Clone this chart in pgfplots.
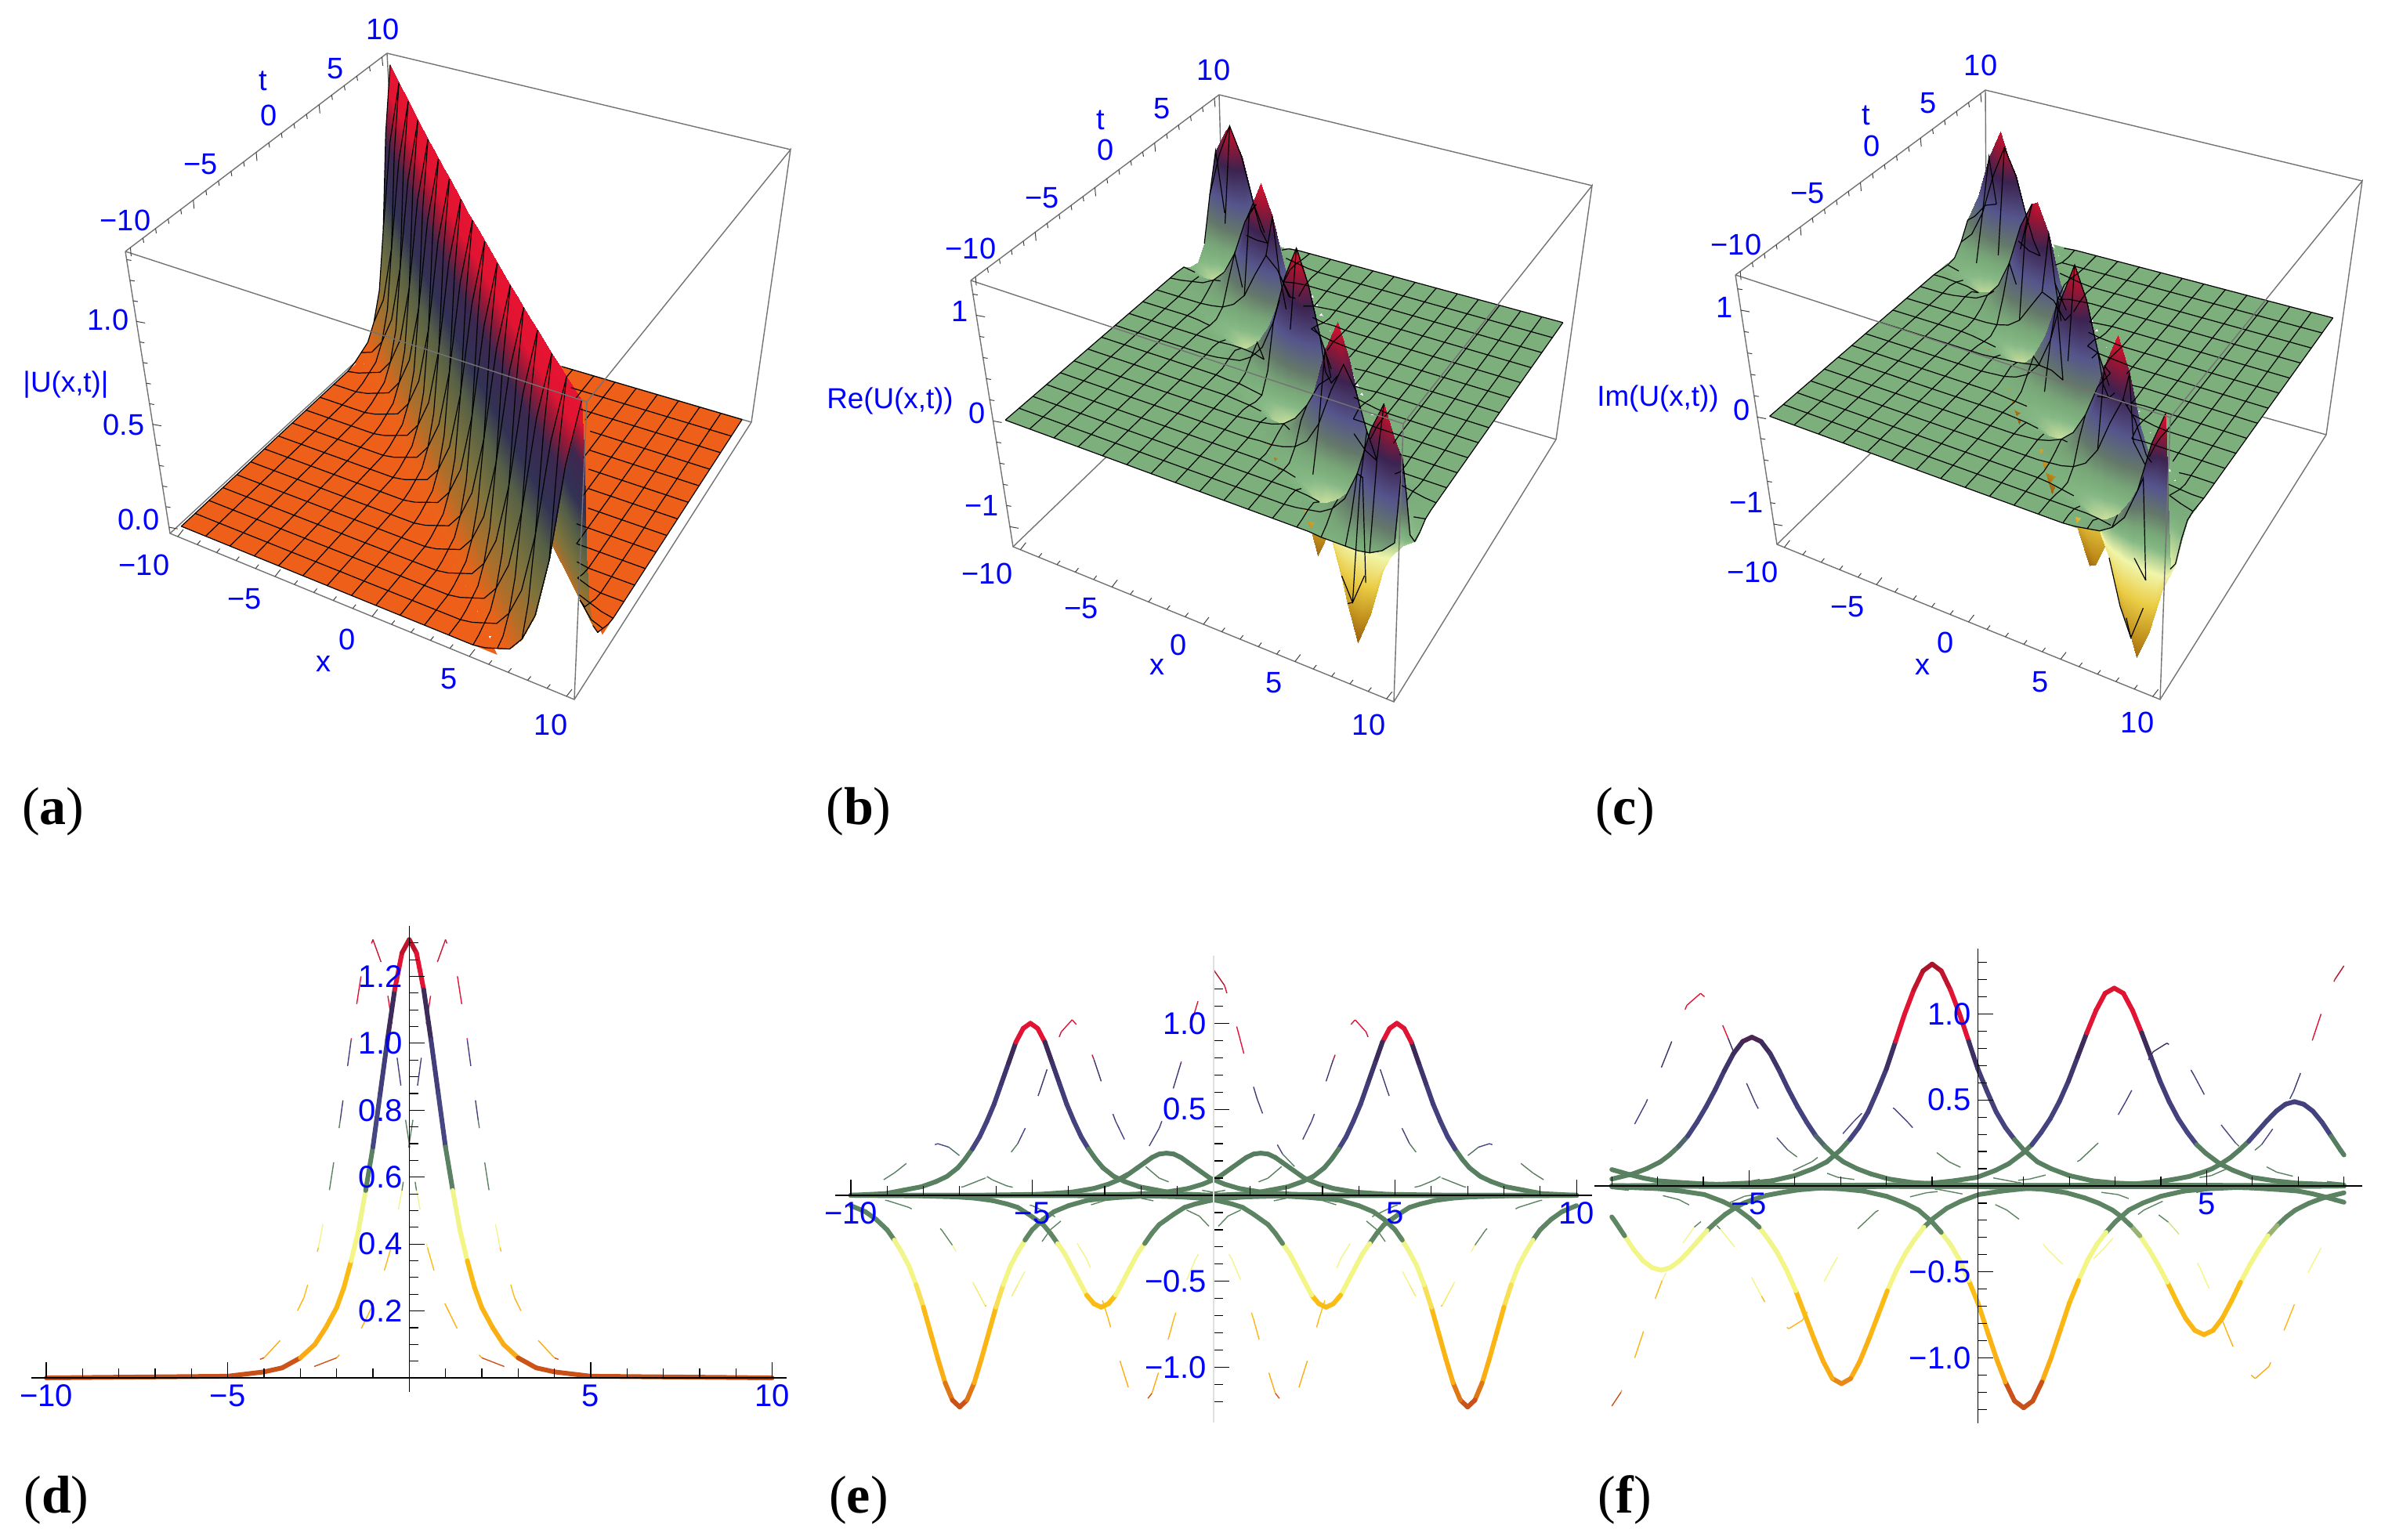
\documentclass[border=0pt]{standalone}
\usepackage{fontspec}
\setmainfont{Liberation Sans}
\newfontfamily\pal{Liberation Serif}
\usepackage{pgfplots}
\pgfplotsset{compat=1.18}
\usetikzlibrary{calc}
\definecolor{plA}{RGB}{238,95,25}
\definecolor{plB}{RGB}{125,175,125}
\pgfplotsset{
 colormap={cmA}{rgb255(0pt)=(238,95,25) rgb255(3pt)=(236,98,25) rgb255(10pt)=(180,110,40) rgb255(25pt)=(125,115,60) rgb255(42pt)=(85,95,70) rgb255(55pt)=(50,50,85) rgb255(72pt)=(60,40,80) rgb255(82pt)=(150,25,55) rgb255(90pt)=(225,20,50) rgb255(100pt)=(230,20,50)},
 colormap={cmB}{rgb255(0pt)=(150,90,20) rgb255(10pt)=(190,140,25) rgb255(25pt)=(235,205,70) rgb255(38pt)=(240,245,170) rgb255(47pt)=(135,185,135) rgb255(50pt)=(125,175,125) rgb255(53pt)=(120,165,120) rgb255(60pt)=(100,120,105) rgb255(70pt)=(85,85,140) rgb255(82pt)=(60,35,80) rgb255(92pt)=(160,20,50) rgb255(100pt)=(225,20,50)},
 colormap={cmL}{rgb255(0pt)=(200,80,25) rgb255(4pt)=(205,85,25) rgb255(5pt)=(250,170,20) rgb255(26pt)=(250,190,20) rgb255(27pt)=(245,245,130) rgb255(39pt)=(240,245,140) rgb255(40pt)=(95,135,100) rgb255(57pt)=(85,125,95) rgb255(58pt)=(70,70,130) rgb255(75pt)=(65,60,120) rgb255(84pt)=(60,40,85) rgb255(85pt)=(225,20,55) rgb255(95pt)=(225,20,50) rgb255(100pt)=(170,20,40)},
 colormap={cmE}{rgb255(0pt)=(200,80,25) rgb255(4pt)=(205,85,25) rgb255(5pt)=(250,170,20) rgb255(26pt)=(250,190,20) rgb255(27pt)=(245,245,130) rgb255(39pt)=(240,245,140) rgb255(40pt)=(95,135,100) rgb255(60pt)=(85,125,95) rgb255(61pt)=(70,70,130) rgb255(75pt)=(65,60,120) rgb255(84pt)=(60,40,85) rgb255(85pt)=(225,20,55) rgb255(95pt)=(225,20,50) rgb255(100pt)=(170,20,40)},
 px/.style={at={(0pt,0pt)},anchor=south west,scale only axis,width=763.25pt,height=491.5pt,xmin=0,xmax=305300,ymin=0,ymax=196600,y dir=reverse,hide axis,clip=false},
 low/.style={anchor=south west,scale only axis,axis lines=middle,axis on top,axis line style={-,black,line width=.3pt},
  tick style={black,line width=.3pt},major tick length=5pt,minor tick length=3pt,
  tick align=inside,tick label style={font=\fontsize{10}{12}\selectfont,text=blue,inner sep=2pt}},
}
\tikzset{pxs/.style={x=.25pt,y=-.25pt,shift={(0pt,491.5pt)}},
 lab/.style={text=blue,font=\fontsize{9.5}{11}\selectfont,inner sep=0pt},
 alab/.style={text=blue,font=\fontsize{9.2}{11}\selectfont,inner sep=0pt},
 plet/.style={font=\pal\fontsize{17}{20}\selectfont,inner sep=0pt},
 edge/.style={draw=black!55,line width=.35pt},
 tk/.style={draw=black!75,line width=.25pt}}
\def\Zs#1{\ifnum#1>0 0\\\expandafter\Zs\expandafter{\the\numexpr#1-1\expandafter}\fi}
\def\L#1 {\ifx;#1\else#1\\\expandafter\L\fi}
% box corners to screen, in integer arithmetic: (x,t,z) grid point -> hundredths of a pixel
\newcount\Ci \newcount\Cj \newcount\Cnt \newcount\La \newcount\Lb \newcount\Lmode \newcount\Pmode \newcount\hidden
\def\setX#1#2#3#4#5#6#7#8{\edef\Ax{\the\numexpr#1*100}\edef\Bx{\the\numexpr#2*100}\edef\Cx{\the\numexpr#3*100}\edef\Dx{\the\numexpr#4*100}\edef\Ex{\the\numexpr#5*100}\edef\Fx{\the\numexpr#6*100}\edef\Gx{\the\numexpr#7*100}\edef\Hx{\the\numexpr#8*100}}
\def\setY#1#2#3#4#5#6#7#8{\edef\Ay{\the\numexpr#1*100}\edef\By{\the\numexpr#2*100}\edef\Cy{\the\numexpr#3*100}\edef\Dy{\the\numexpr#4*100}\edef\Ey{\the\numexpr#5*100}\edef\Fy{\the\numexpr#6*100}\edef\Gy{\the\numexpr#7*100}\edef\Hy{\the\numexpr#8*100}}
\def\bil#1#2#3#4{\numexpr(\numexpr(20800-\Wn)*#1/20800+\Wn*#4/20800\relax)*(20800-\Un)/20800+(\numexpr(20800-\Wn)*#2/20800+\Wn*#3/20800\relax)*\Un/20800\relax}
\def\calcPt{\edef\Un{\the\numexpr625*\Ci+400}\edef\Wn{\the\numexpr20400-625*\Cj}\edef\Vn{\the\numexpr\dimexpr\zv pt\relax-(\zmn)\relax}%
 \edef\px{\the\numexpr(\bil\Ax\Bx\Cx\Dx)*(\zrg-\Vn)/\zrg+(\bil\Ex\Fx\Gx\Hx)*\Vn/\zrg\relax}%
 \edef\py{\the\numexpr(\bil\Ay\By\Cy\Dy)*(\zrg-\Vn)/\zrg+(\bil\Ey\Fy\Gy\Hy)*\Vn/\zrg\relax}}
\def\handle#1{\edef\zv{#1}\calcPt\expandafter\xdef\csname\pre-\the\Ci-\the\Cj\endcsname{\px\space\py}%
 \expandafter\xdef\csname z\pre-\the\Ci-\the\Cj\endcsname{\zv}%
 \edef\rowt{\rowt\px\space\py\space\zv\\}\advance\Cnt1 \advance\Ci1 \ifnum\Ci=33 \xdef\ptsAcc{\ptsAcc\rowt}\def\rowt{}\Ci=0 \advance\Cj1 \fi}
\def\scan#1\\{\handle{#1}\ifnum\Cnt<1089 \expandafter\scan\fi}
% hidden-line test for the mesh lines behind the hills and below the plane
\def\trighid#1{\ifnum\kk<8 \ifnum\numexpr625*\Ci+494*\kk\relax<20500 \pgfmathparse{#1(deg(1.4*(10-.625*\the\Cj-1.119*\kk)))-.1875*\kk}\ifdim\pgfmathresult pt>0pt \hidden=1 \fi\fi\fi}
\def\hid{\hidden=0 \edef\kk{\the\numexpr\Ci-\Cj}\ifnum\kk>0 \ifcase\Pmode \ifnum\kk<15 \ifnum\numexpr625*\Ci+487*\kk\relax<20000 \hidden=1 \else\ifnum\kk<4 \hidden=1 \fi\fi\fi \or \trighid{1.31*cos}\or \trighid{-1.31*sin}\fi\fi
 \ifnum\Pmode>0 \edef\zs{\number\dimexpr\csname z\pre-\the\Ci-\the\Cj\endcsname pt\relax}\ifnum\zs<-3277 \ifnum\numexpr-\zs\relax<\numexpr220200-6881*\Cj\relax \ifnum\numexpr-\zs\relax<\numexpr500000-15630*\Ci\relax \hidden=1 \fi\fi\fi\fi}
\def\ptstep{\ifnum\Lmode=0 \Ci=\Lb\Cj=\La\else\Ci=\La\Cj=\Lb\fi\hid\ifnum\hidden=1 \edef\rowt{\rowt nan nan\\}\else\edef\rowt{\rowt\csname\pre-\the\Ci-\the\Cj\endcsname\\}\fi}
\def\innerloop{\ifnum\Lb<33 \ptstep\advance\Lb1 \expandafter\innerloop\fi}
\def\mk#1{\Lmode=#1 \gdef\lout{}\La=0 \loop\def\rowt{}\Lb=0 \innerloop\xdef\lout{\lout\rowt nan nan\\}\advance\La2 \ifnum\La<33 \repeat}
\def\addc#1#2{\Ci=#1 \Cj=#2 \calcPt\xdef\lout{\lout\px\space\py\\}}
\newcommand\prepp[7]{\def\tmpX{\expandafter\setX#6}\def\tmpY{\expandafter\setY#7}\prepq{#1}{#2}{#3}{#4}{#5}}
\newcommand\prepq[5]{\begingroup\let\\\relax
 \edef\zmn{\number\dimexpr#3pt\relax}\edef\zrg{\number\dimexpr#4pt\relax}\def\pre{#2}\Pmode=#5
 \tmpX\tmpY
 \gdef\ptsAcc{}\def\rowt{}\Ci=0 \Cj=0 \Cnt=0
 \expandafter\scan#1
 \expandafter\global\expandafter\let\csname pts#2\endcsname\ptsAcc
 \mk0\expandafter\global\expandafter\let\csname lr#2\endcsname\lout
 \mk1\expandafter\global\expandafter\let\csname lc#2\endcsname\lout
 \def\zv{0}\gdef\lout{}\addc{0}{6}\addc{26}{32}\addc{0}{32}%
 \expandafter\global\expandafter\let\csname pL#2\endcsname\lout
 \gdef\lout{}\addc{6}{0}\addc{32}{0}\addc{32}{26}%
 \expandafter\global\expandafter\let\csname pR#2\endcsname\lout
 \endgroup}
% triangles split along the x+t=const diagonal, back to front, only where the surface leaves the plane
\def\tritxt{}
\begingroup\let\\\relax
\foreach \j in {0,...,31}{%
 \pgfmathtruncatemacro\ilo{max(0,\j-6)}\pgfmathtruncatemacro\ihi{min(31,\j+6)}%
 \foreach \i in {\ilo,...,\ihi}{%
 \edef\a{\the\numexpr33*\j+\i\relax}%
 \xdef\tritxt{\tritxt \a\space\the\numexpr\a+1\relax\space\the\numexpr\a+34\relax\\\a\space\the\numexpr\a+34\relax\space\the\numexpr\a+33\relax\\}%
}}
\endgroup
\def\SP#1#2{\addplot[patch,shader=interp,table/row sep=\\,table/header=false,patch table={#1},point meta=explicit] table[row sep=\\,header=false,x index=0,y index=1,meta index=2]{#2};}
\def\SPb#1{\expandafter\SP\expandafter{\tritxt}{#1}}
\def\LN#1{\addplot[black,line width=.3pt,no marks,unbounded coords=jump] table[row sep=\\,header=false,x index=0,y index=1]{#1};}
\def\PL#1#2{\addplot[fill=#1,draw=none,no marks] table[row sep=\\,header=false,x index=0,y index=1]{#2};}
\newcommand\surfplot[6]{\def\tmp{\PL{#1}}\expandafter\tmp\expandafter{#2}\expandafter\tmp\expandafter{#3}\expandafter\SPb\expandafter{#4}\expandafter\LN\expandafter{#5}\expandafter\LN\expandafter{#6}}
\newcommand\tks[6]{\foreach \v in {#3}{\pgfmathsetmacro\f{(\v+#4)/#5}\draw[tk] ($(#1)!\f!(#2)$) -- ++(#6);}}
\newcommand\xtticks[1]{%
 \tks{#1A}{#1B}{-9,-8,-7,-6,-4,-3,-2,-1,1,2,3,4,6,7,8,9}{10.4}{20.8}{4,-5}
 \tks{#1A}{#1B}{-10,-5,0,5,10}{10.4}{20.8}{7,-9}
 \tks{#1E}{#1H}{-9,-8,-7,-6,-4,-3,-2,-1,1,2,3,4,6,7,8,9}{10.4}{20.8}{1,6}
 \tks{#1E}{#1H}{-10,-5,0,5,10}{10.4}{20.8}{1,11}}
% one curve, and optionally its mirror image through sx, sy
\newcommand\thk[3]{\addplot[mesh,line width=1.5pt,line cap=round] table[row sep=\\,header=false,x expr=#2*\thisrowno{0},y expr=#3*\thisrowno{1}]{#1};}
\newcommand\thn[3]{\addplot[mesh,line width=.35pt] table[row sep=\\,header=false,x expr=#2*\thisrowno{0},y expr=#3*\thisrowno{1}]{#1};
 \addplot[white,line width=1.2pt,dash pattern=on 11pt off 9pt] table[row sep=\\,header=false,x expr=#2*\thisrowno{0},y expr=#3*\thisrowno{1}]{#1};}
\newcommand\tkk[3]{\thk{#1}{1}{1}\thk{#1}{#2}{#3}}
\newcommand\tnn[3]{\thn{#1}{1}{1}\thn{#1}{#2}{#3}}

\begingroup\let\\\relax
\xdef\txtA{
\L 1.31 .99 .53 .25 .12 .05 .03 .01 ; \Zs{25}
\L .99 1.31 .99 .53 .25 .12 .05 .03 .01 ; \Zs{24}
\L .53 .99 1.31 .99 .53 .25 .12 .05 .03 .01 ; \Zs{23}
\L .25 .53 .99 1.31 .99 .53 .25 .12 .05 .03 .01 ; \Zs{22}
\L .12 .25 .53 .99 1.31 .99 .53 .25 .12 .05 .03 .01 ; \Zs{21}
\L .05 .12 .25 .53 .99 1.31 .99 .53 .25 .12 .05 .03 .01 ; \Zs{20}
\L .03 .05 .12 .25 .53 .99 1.31 .99 .53 .25 .12 .05 .03 .01 ; \Zs{19}
\L .01 .03 .05 .12 .25 .53 .99 1.31 .99 .53 .25 .12 .05 .03 .01 ; \Zs{18}
\Zs{1}\L .01 .03 .05 .12 .25 .53 .99 1.31 .99 .53 .25 .12 .05 .03 .01 ; \Zs{17}
\Zs{2}\L .01 .03 .05 .12 .25 .53 .99 1.31 .99 .53 .25 .12 .05 .03 .01 ; \Zs{16}
\Zs{3}\L .01 .03 .05 .12 .25 .53 .99 1.31 .99 .53 .25 .12 .05 .03 .01 ; \Zs{15}
\Zs{4}\L .01 .03 .05 .12 .25 .53 .99 1.31 .99 .53 .25 .12 .05 .03 .01 ; \Zs{14}
\Zs{5}\L .01 .03 .05 .12 .25 .53 .99 1.31 .99 .53 .25 .12 .05 .03 .01 ; \Zs{13}
\Zs{6}\L .01 .03 .05 .12 .25 .53 .99 1.31 .99 .53 .25 .12 .05 .03 .01 ; \Zs{12}
\Zs{7}\L .01 .03 .05 .12 .25 .53 .99 1.31 .99 .53 .25 .12 .05 .03 .01 ; \Zs{11}
\Zs{8}\L .01 .03 .05 .12 .25 .53 .99 1.31 .99 .53 .25 .12 .05 .03 .01 ; \Zs{10}
\Zs{9}\L .01 .03 .05 .12 .25 .53 .99 1.31 .99 .53 .25 .12 .05 .03 .01 ; \Zs{9}
\Zs{10}\L .01 .03 .05 .12 .25 .53 .99 1.31 .99 .53 .25 .12 .05 .03 .01 ; \Zs{8}
\Zs{11}\L .01 .03 .05 .12 .25 .53 .99 1.31 .99 .53 .25 .12 .05 .03 .01 ; \Zs{7}
\Zs{12}\L .01 .03 .05 .12 .25 .53 .99 1.31 .99 .53 .25 .12 .05 .03 .01 ; \Zs{6}
\Zs{13}\L .01 .03 .05 .12 .25 .53 .99 1.31 .99 .53 .25 .12 .05 .03 .01 ; \Zs{5}
\Zs{14}\L .01 .03 .05 .12 .25 .53 .99 1.31 .99 .53 .25 .12 .05 .03 .01 ; \Zs{4}
\Zs{15}\L .01 .03 .05 .12 .25 .53 .99 1.31 .99 .53 .25 .12 .05 .03 .01 ; \Zs{3}
\Zs{16}\L .01 .03 .05 .12 .25 .53 .99 1.31 .99 .53 .25 .12 .05 .03 .01 ; \Zs{2}
\Zs{17}\L .01 .03 .05 .12 .25 .53 .99 1.31 .99 .53 .25 .12 .05 .03 .01 ; \Zs{1}
\Zs{18}\L .01 .03 .05 .12 .25 .53 .99 1.31 .99 .53 .25 .12 .05 .03 .01 ;
\Zs{19}\L .01 .03 .05 .12 .25 .53 .99 1.31 .99 .53 .25 .12 .05 .03 ;
\Zs{20}\L .01 .03 .05 .12 .25 .53 .99 1.31 .99 .53 .25 .12 .05 ;
\Zs{21}\L .01 .03 .05 .12 .25 .53 .99 1.31 .99 .53 .25 .12 ;
\Zs{22}\L .01 .03 .05 .12 .25 .53 .99 1.31 .99 .53 .25 ;
\Zs{23}\L .01 .03 .05 .12 .25 .53 .99 1.31 .99 .53 ;
\Zs{24}\L .01 .03 .05 .12 .25 .53 .99 1.31 .99 ;
\Zs{25}\L .01 .03 .05 .12 .25 .53 .99 1.31 ;
}
\xdef\txtB{
\L .18 .07 .01 -.01 -.01 -.01 -.01 0 ; \Zs{25}
\L .87 1.11 .81 .41 .19 .08 .04 .02 .01 ; \Zs{24}
\L .48 .92 1.24 .96 .52 .25 .12 .05 .03 .01 ; \Zs{23}
\L .05 .13 .31 .48 .42 .26 .14 .07 .03 .02 .01 ; \Zs{22}
\L -.08 -.16 -.31 -.52 -.62 -.42 -.19 -.08 -.03 -.01 0 0 ; \Zs{21}
\L -.06 -.12 -.25 -.53 -.98 -1.28 -.96 -.51 -.24 -.11 -.05 -.02 -.01 ; \Zs{20}
\L -.01 -.03 -.07 -.17 -.37 -.73 -1.02 -.81 -.46 -.22 -.11 -.05 -.02 -.01 ; \Zs{19}
\L 0 .01 .02 .03 .04 .06 .04 -.03 -.08 -.08 -.05 -.03 -.02 -.01 -.01 ; \Zs{18}
\Zs{1}\L .01 .03 .05 .11 .22 .44 .79 .99 .71 .36 .16 .07 .03 .01 .01 ; \Zs{17}
\Zs{2}\L .01 .02 .05 .11 .24 .51 .97 1.29 .99 .53 .25 .12 .05 .03 .01 ; \Zs{16}
\Zs{3}\L 0 0 .01 .03 .09 .21 .45 .67 .56 .33 .17 .08 .04 .02 .01 ; \Zs{15}
\Zs{4}\L -.01 -.02 -.03 -.07 -.13 -.24 -.39 -.43 -.27 -.11 -.04 -.01 0 0 0 ; \Zs{14}
\Zs{5}\L -.01 -.03 -.06 -.12 -.25 -.52 -.95 -1.23 -.90 -.47 -.22 -.10 -.04 -.02 -.01 ; \Zs{13}
\Zs{6}\L -.01 -.02 -.04 -.09 -.19 -.43 -.83 -1.14 -.89 -.49 -.24 -.11 -.05 -.03 -.01 ; \Zs{12}
\Zs{7}\L 0 0 .01 .01 0 -.03 -.12 -.23 -.24 -.16 -.09 -.05 -.03 -.01 -.01 ; \Zs{11}
\Zs{8}\L .01 .02 .05 .10 .20 .39 .68 .84 .59 .29 .12 .05 .02 .01 0 ; \Zs{10}
\Zs{9}\L .01 .03 .05 .12 .25 .53 .99 1.31 .99 .53 .25 .12 .05 .03 .01 ; \Zs{9}
\Zs{10}\L 0 .01 .02 .05 .12 .29 .59 .84 .68 .39 .20 .10 .05 .02 .01 ; \Zs{8}
\Zs{11}\L -.01 -.01 -.03 -.05 -.09 -.16 -.24 -.23 -.12 -.03 0 .01 .01 0 0 ; \Zs{7}
\Zs{12}\L -.01 -.03 -.05 -.11 -.24 -.49 -.89 -1.14 -.83 -.43 -.19 -.09 -.04 -.02 -.01 ; \Zs{6}
\Zs{13}\L -.01 -.02 -.04 -.10 -.22 -.47 -.90 -1.23 -.95 -.52 -.25 -.12 -.06 -.03 -.01 ; \Zs{5}
\Zs{14}\L 0 0 0 -.01 -.04 -.11 -.27 -.43 -.39 -.24 -.13 -.07 -.03 -.02 -.01 ; \Zs{4}
\Zs{15}\L .01 .02 .04 .08 .17 .33 .56 .67 .45 .21 .09 .03 .01 0 0 ; \Zs{3}
\Zs{16}\L .01 .03 .05 .12 .25 .53 .99 1.29 .97 .51 .24 .11 .05 .02 .01 ; \Zs{2}
\Zs{17}\L .01 .01 .03 .07 .16 .36 .71 .99 .79 .44 .22 .11 .05 .03 .01 ; \Zs{1}
\Zs{18}\L -.01 -.01 -.02 -.03 -.05 -.08 -.08 -.03 .04 .06 .04 .03 .02 .01 0 ;
\Zs{19}\L -.01 -.02 -.05 -.11 -.22 -.46 -.81 -1.02 -.73 -.37 -.17 -.07 -.03 -.01 ;
\Zs{20}\L -.01 -.02 -.05 -.11 -.24 -.51 -.96 -1.28 -.98 -.53 -.25 -.12 -.06 ;
\Zs{21}\L 0 0 -.01 -.03 -.08 -.19 -.42 -.62 -.52 -.31 -.16 -.08 ;
\Zs{22}\L .01 .02 .03 .07 .14 .26 .42 .48 .31 .13 .05 ;
\Zs{23}\L .01 .03 .05 .12 .25 .52 .96 1.24 .92 .48 ;
\Zs{24}\L .01 .02 .04 .08 .19 .41 .81 1.11 .87 ;
\Zs{25}\L 0 -.01 -.01 -.01 -.01 .01 .07 .18 ;
}
\xdef\txtC{
\L -1.30 -.99 -.53 -.25 -.12 -.05 -.03 -.01 ; \Zs{25}
\L -.47 -.69 -.58 -.34 -.17 -.09 -.04 -.02 -.01 ; \Zs{24}
\L .23 .37 .41 .25 .10 .03 .01 0 0 0 ; \Zs{23}
\L .25 .52 .94 1.22 .90 .47 .22 .10 .04 .02 .01 ; \Zs{22}
\L .09 .20 .44 .84 1.15 .90 .50 .24 .12 .05 .03 .01 ; \Zs{21}
\L -.01 -.01 0 .04 .14 .26 .26 .17 .10 .05 .03 .01 .01 ; \Zs{20}
\L -.02 -.05 -.09 -.19 -.38 -.67 -.82 -.57 -.28 -.12 -.05 -.02 -.01 0 ; \Zs{19}
\L -.01 -.03 -.05 -.12 -.25 -.53 -.99 -1.31 -.99 -.53 -.25 -.12 -.05 -.03 -.01 ; \Zs{18}
\Zs{1}\L 0 -.01 -.02 -.05 -.13 -.30 -.60 -.86 -.70 -.40 -.20 -.10 -.05 -.02 -.01 ; \Zs{17}
\Zs{2}\L .01 .01 .02 .05 .09 .15 .22 .21 .09 .02 -.01 -.01 -.01 -.01 0 ; \Zs{16}
\Zs{3}\L .01 .03 .05 .11 .24 .49 .88 1.13 .82 .42 .19 .08 .04 .02 .01 ; \Zs{15}
\Zs{4}\L .01 .02 .04 .10 .22 .48 .91 1.24 .96 .52 .25 .12 .06 .03 .01 ; \Zs{14}
\Zs{5}\L 0 0 0 .01 .04 .12 .29 .46 .41 .25 .13 .07 .03 .02 .01 ; \Zs{13}
\Zs{6}\L -.01 -.02 -.04 -.08 -.16 -.32 -.54 -.65 -.44 -.20 -.08 -.03 -.01 0 0 ; \Zs{12}
\Zs{7}\L -.01 -.03 -.05 -.12 -.25 -.53 -.99 -1.29 -.96 -.51 -.24 -.11 -.05 -.02 -.01 ; \Zs{11}
\Zs{8}\L -.01 -.01 -.03 -.07 -.16 -.36 -.72 -1.01 -.80 -.45 -.22 -.11 -.05 -.03 -.01 ; \Zs{10}
\Zs{9}\L 0 .01 .02 .03 .05 .07 .06 0 -.06 -.07 -.05 -.03 -.02 -.01 0 ; \Zs{9}
\Zs{10}\L .01 .03 .05 .11 .22 .45 .80 1.01 .72 .36 .16 .07 .03 .01 .01 ; \Zs{8}
\Zs{11}\L .01 .02 .05 .11 .24 .51 .96 1.29 .99 .53 .25 .12 .05 .03 .01 ; \Zs{7}
\Zs{12}\L 0 0 .01 .03 .08 .20 .44 .65 .54 .32 .16 .08 .04 .02 .01 ; \Zs{6}
\Zs{13}\L -.01 -.02 -.03 -.07 -.13 -.25 -.41 -.46 -.29 -.12 -.04 -.01 0 0 0 ; \Zs{5}
\Zs{14}\L -.01 -.03 -.06 -.12 -.25 -.52 -.96 -1.24 -.91 -.48 -.22 -.10 -.04 -.02 -.01 ; \Zs{4}
\Zs{15}\L -.01 -.02 -.04 -.08 -.19 -.42 -.82 -1.13 -.88 -.49 -.24 -.11 -.05 -.03 -.01 ; \Zs{3}
\Zs{16}\L 0 .01 .01 .01 .01 -.02 -.09 -.21 -.22 -.15 -.09 -.05 -.02 -.01 -.01 ; \Zs{2}
\Zs{17}\L .01 .02 .05 .10 .20 .40 .70 .86 .60 .30 .13 .05 .02 .01 0 ; \Zs{1}
\Zs{18}\L .01 .03 .05 .12 .25 .53 .99 1.31 .99 .53 .25 .12 .05 .03 .01 ;
\Zs{19}\L 0 .01 .02 .05 .12 .28 .57 .82 .67 .38 .19 .09 .05 .02 ;
\Zs{20}\L -.01 -.01 -.03 -.05 -.10 -.17 -.26 -.26 -.14 -.04 0 .01 .01 ;
\Zs{21}\L -.01 -.03 -.05 -.12 -.24 -.50 -.90 -1.15 -.84 -.44 -.20 -.09 ;
\Zs{22}\L -.01 -.02 -.04 -.10 -.22 -.47 -.90 -1.22 -.94 -.52 -.25 ;
\Zs{23}\L 0 0 0 -.01 -.03 -.10 -.25 -.41 -.37 -.23 ;
\Zs{24}\L .01 .02 .04 .09 .17 .34 .58 .69 .47 ;
\Zs{25}\L .01 .03 .05 .12 .25 .53 .99 1.30 ;
}
\endgroup
\def\aX{{217}{733}{959}{512}{160}{749}{1009}{494}}
\def\aY{{681}{893}{539}{408}{321}{513}{191}{68}}
\def\bX{{1293}{1779}{1986}{1565}{1239}{1791}{2032}{1556}}
\def\bY{{698}{896}{561}{436}{358}{541}{237}{121}}
\def\cX{{2268}{2757}{2969}{2536}{2215}{2770}{3015}{2534}}
\def\cY{{695}{893}{555}{434}{351}{533}{231}{115}}
\prepp{\txtA}{A}{-.03}{1.37}{0}{\aX}{\aY}
\prepp{\txtB}{B}{-1.19}{2.52}{1}{\bX}{\bY}
\prepp{\txtC}{C}{-1.19}{2.52}{2}{\cX}{\cY}

\begin{document}
\begin{tikzpicture}
\path[use as bounding box] (0,0) rectangle (763.25pt,491.5pt);
\begin{scope}[pxs]
\coordinate (aA) at (217,681);\coordinate (aB) at (733,893);\coordinate (aC) at (959,539);\coordinate (aD) at (512,408);
\coordinate (aE) at (160,321);\coordinate (aF) at (749,513);\coordinate (aG) at (1009,191);\coordinate (aH) at (494,68);
\coordinate (bA) at (1293,698);\coordinate (bB) at (1779,896);\coordinate (bC) at (1986,561);\coordinate (bD) at (1565,436);
\coordinate (bE) at (1239,358);\coordinate (bF) at (1791,541);\coordinate (bG) at (2032,237);\coordinate (bH) at (1556,121);
\coordinate (cA) at (2268,695);\coordinate (cB) at (2757,893);\coordinate (cC) at (2969,555);\coordinate (cD) at (2536,434);
\coordinate (cE) at (2215,351);\coordinate (cF) at (2770,533);\coordinate (cG) at (3015,231);\coordinate (cH) at (2534,115);
\draw[edge] (aH)--(aG) (aA)--(aD)--(aC) (aD)--(aH);
\draw[edge] (bH)--(bG) (bA)--(bD)--(bC) (bD)--(bH);
\draw[edge] (cH)--(cG) (cA)--(cD)--(cC) (cD)--(cH);
\end{scope}
\begin{axis}[px,colormap name=cmA,point meta min=0,point meta max=1.31]
\surfplot{plA}{\pRA}{\pLA}{\ptsA}{\lrA}{\lcA}
\end{axis}
\begin{axis}[px,colormap name=cmB,point meta min=-1.31,point meta max=1.31]
\surfplot{plB}{\pRB}{\pLB}{\ptsB}{\lrB}{\lcB}
\end{axis}
\begin{axis}[px,colormap name=cmB,point meta min=-1.31,point meta max=1.31]
\surfplot{plB}{\pRC}{\pLC}{\ptsC}{\lrC}{\lcC}
\end{axis}
\begin{scope}[pxs]
\draw[edge] (aE)--(aH) (aE)--(aF)--(aG)--(aC)--(aB)--(aA)--(aE) (aF)--(aB);
\draw[edge] (bE)--(bH) (bE)--(bF)--(bG)--(bC)--(bB)--(bA)--(bE) (bF)--(bB);
\draw[edge] (cE)--(cH) (cE)--(cF)--(cG)--(cC)--(cB)--(cA)--(cE) (cF)--(cB);
\xtticks{a}\xtticks{b}\xtticks{c}
\tks{aA}{aE}{.1,.2,.3,.4,.6,.7,.8,.9,1.1,1.2,1.3}{.03}{1.37}{6,1}
\tks{aA}{aE}{0,.5,1}{.03}{1.37}{11,2}
\tks{bA}{bE}{-.8,-.6,-.4,-.2,.2,.4,.6,.8,1.2}{1.19}{2.52}{6,1}
\tks{bA}{bE}{-1,0,1}{1.19}{2.52}{11,2}
\tks{cA}{cE}{-.8,-.6,-.4,-.2,.2,.4,.6,.8,1.2}{1.19}{2.52}{6,1}
\tks{cA}{cE}{-1,0,1}{1.19}{2.52}{11,2}
\node[lab] at (489,37) {10};\node[lab] at (428,88) {5};\node[lab] at (336,103) {t};\node[lab] at (343,147) {0};
\node[lab] at (256,210) {−5};\node[lab] at (160,281) {−10};\node[lab] at (138,408) {1.0};\node[lab] at (158,542) {0.5};
\node[alab] at (84,491) {|U(x,t)|};\node[lab] at (177,663) {0.0};
\node[lab] at (184,721) {−10};\node[lab] at (312,765) {−5};\node[lab] at (443,816) {0};\node[lab] at (413,847) {x};
\node[lab] at (573,867) {5};\node[lab] at (703,925) {10};
\node[lab] at (1549,89) {10};\node[lab] at (1483,139) {5};\node[lab] at (1405,153) {t};\node[lab] at (1411,191) {0};
\node[lab] at (1330,253) {−5};\node[lab] at (1239,317) {−10};\node[lab] at (1225,397) {1};\node[alab] at (1136,512) {Re(U(x,t))};
\node[lab] at (1247,527) {0};\node[lab] at (1253,645) {−1};\node[lab] at (1260,732) {−10};\node[lab] at (1380,777) {−5};
\node[lab] at (1504,823) {0};\node[lab] at (1477,851) {x};\node[lab] at (1626,872) {5};\node[lab] at (1747,925) {10};
\node[lab] at (2528,83) {10};\node[lab] at (2461,132) {5};\node[lab] at (2382,147) {t};\node[lab] at (2389,186) {0};
\node[lab] at (2307,247) {−5};\node[lab] at (2216,312) {−10};\node[lab] at (2201,392) {1};\node[alab] at (2116,509) {Im(U(x,t))};
\node[lab] at (2223,523) {0};\node[lab] at (2229,641) {−1};\node[lab] at (2237,730) {−10};\node[lab] at (2358,775) {−5};
\node[lab] at (2483,820) {0};\node[lab] at (2454,851) {x};\node[lab] at (2604,871) {5};\node[lab] at (2728,922) {10};
\node[plet] at (68,1036) {(\textbf{a})};\node[plet] at (1096,1036) {(\textbf{b})};\node[plet] at (2074,1036) {(\textbf{c})};
\node[plet] at (72,1915) {(\textbf{d})};\node[plet] at (1096,1915) {(\textbf{e})};\node[plet] at (2074,1915) {(\textbf{f})};
\end{scope}
% (d)
\begin{axis}[low,colormap name=cmL,at={(10.125pt,47.25pt)},width=240.9pt,height=148.75pt,xmin=-10.4,xmax=10.4,ymin=-.042,ymax=1.351,
 point meta min=0,point meta max=1.31,
 xtick={-10,-5,5,10},xticklabels={−10,−5,5,10},minor xtick={-9,-8,-7,-6,-4,-3,-2,-1,1,2,3,4,6,7,8,9},
 ytick={.2,.4,.6,.8,1,1.2},yticklabels={0.2,0.4,0.6,0.8,1.0,1.2},minor ytick={.05,.1,.15,.25,.3,.35,.45,.5,.55,.65,.7,.75,.85,.9,.95,1.05,1.1,1.15,1.25,1.3}]
\tnn{-5 .018\\-4 .06\\-3.4 .13\\-2.9 .24\\-2.5 .39\\-2.2 .56\\-1.9 .77\\-1.6 1.01\\-1.3 1.22\\-1 1.31\\-.7 1.22\\-.4 1.01\\-.1 .77\\.2 .56\\.5 .39\\.9 .24\\1.4 .13\\2 .06\\3 .018\\}{-1}{1}
\thk{-10 0\\-5 .005\\-4 .018\\-3.5 .03\\-3 .06\\-2.6 .10\\-2.3 .15\\-2 .21\\-1.8 .27\\-1.6 .35\\-1.4 .44\\-1.2 .56\\-1 .69\\-.8 .85\\-.6 1.01\\-.4 1.16\\-.2 1.27\\0 1.31\\.2 1.27\\.4 1.16\\.6 1.01\\.8 .85\\1 .69\\1.2 .56\\1.4 .44\\1.6 .35\\1.8 .27\\2 .21\\2.3 .15\\2.6 .10\\3 .06\\3.5 .03\\4 .018\\5 .005\\10 0\\}{1}{1}
\end{axis}
% (e)
\begin{axis}[low,colormap name=cmE,at={(266.5pt,37.5pt)},width=241.5pt,height=149pt,xmin=-10.43,xmax=10.43,ymin=-1.32,ymax=1.393,
 point meta min=-1.25,point meta max=1.25,y axis line style={black!12},
 xtick={-10,-5,5,10},xticklabels={−10,−5,5,10},minor xtick={-9,-8,-7,-6,-4,-3,-2,-1,1,2,3,4,6,7,8,9},
 ytick={-1,-.5,.5,1},yticklabels={−1.0,−0.5,0.5,1.0},minor ytick={-1.2,-1.1,-.9,-.8,-.7,-.6,-.4,-.3,-.2,-.1,.1,.2,.3,.4,.6,.7,.8,.9,1.1,1.2}]
\tnn{-7.9 .014\\-6.9 .05\\-6.3 .10\\-5.8 .19\\-5.4 .30\\-5.1 .43\\-4.8 .60\\-4.5 .79\\-4.2 .95\\-3.9 1.02\\-3.6 .95\\-3.3 .79\\-3 .60\\-2.7 .43\\-2.4 .30\\-2 .19\\-1.5 .10\\-.9 .05\\.1 .014\\}{-1}{1}
\thn{-4 .018\\-3 .06\\-2.4 .13\\-1.9 .24\\-1.5 .39\\-1.2 .56\\-.9 .77\\-.6 1.01\\-.3 1.22\\0 1.31\\.3 1.22\\.6 1.01\\.9 .77\\1.2 .56\\1.5 .39\\1.9 .24\\2.4 .13\\3 .06\\4 .018\\}{1}{1}
\tnn{-10 .03\\-9.5 .055\\-9.1 .09\\-8.8 .13\\-8.5 .18\\-8.2 .23\\-7.9 .28\\-7.6 .30\\-7.3 .28\\-7 .23\\-6.7 .18\\-6.4 .13\\-6.1 .09\\-5.7 .055\\-5.2 .03\\-4.6 .014\\-3.6 .004\\}{-1}{1}
\tnn{-6 -.017\\-5 -.06\\-4.4 -.12\\-3.9 -.23\\-3.5 -.37\\-3.2 -.52\\-2.9 -.72\\-2.6 -.95\\-2.3 -1.15\\-2 -1.23\\-1.7 -1.15\\-1.4 -.95\\-1.1 -.72\\-.8 -.52\\-.5 -.37\\-.1 -.23\\.4 -.12\\1 -.06\\2 -.017\\}{-1}{1}
\tnn{-10 -.009\\-9 -.03\\-8.4 -.07\\-7.9 -.13\\-7.5 -.20\\-7.2 -.29\\-6.9 -.40\\-6.6 -.52\\-6.3 -.64\\-6 -.68\\-5.7 -.64\\-5.4 -.52\\-5.1 -.40\\-4.8 -.29\\-4.5 -.20\\-4.1 -.13\\-3.6 -.07\\-3 -.03\\-2 -.009\\}{-1}{1}
\tkk{-10 0\\-9.05 .01\\-8.55 .03\\-8.05 .05\\-7.65 .08\\-7.35 .11\\-7.05 .16\\-6.85 .21\\-6.65 .27\\-6.45 .34\\-6.25 .43\\-6.05 .53\\-5.85 .65\\-5.65 .77\\-5.45 .89\\-5.25 .97\\-5.05 1\\-4.85 .97\\-4.65 .89\\-4.45 .77\\-4.25 .65\\-4.05 .53\\-3.85 .43\\-3.65 .34\\-3.45 .27\\-3.25 .21\\-3.05 .16\\-2.75 .11\\-2.45 .08\\-2.05 .05\\-1.55 .03\\-1.05 .01\\0 0\\10 0\\}{-1}{1}
\tkk{-10 0\\-6.3 .001\\-4.8 .006\\-3.9 .019\\-3.3 .04\\-2.9 .065\\-2.5 .10\\-2.1 .16\\-1.9 .19\\-1.7 .22\\-1.5 .24\\-1.3 .245\\-1.1 .24\\-.9 .22\\-.7 .19\\-.5 .16\\-.1 .10\\.3 .065\\.7 .04\\1.3 .019\\2.2 .006\\3.7 .001\\10 0\\}{-1}{1}
\tkk{-10 -.06\\-9.6 -.095\\-9.3 -.14\\-9 -.20\\-8.8 -.26\\-8.6 -.33\\-8.4 -.41\\-8.2 -.52\\-8 -.65\\-7.8 -.80\\-7.6 -.95\\-7.4 -1.09\\-7.2 -1.19\\-7 -1.23\\-6.8 -1.19\\-6.6 -1.09\\-6.4 -.95\\-6.2 -.80\\-6 -.65\\-5.8 -.52\\-5.6 -.41\\-5.4 -.33\\-5.2 -.26\\-5 -.20\\-4.7 -.14\\-4.4 -.095\\-4 -.06\\-3.5 -.03\\-3 -.017\\-2 -.005\\0 0\\10 0\\}{-1}{1}
\tkk{-10 0\\-8.1 -.003\\-7.1 -.009\\-6.6 -.016\\-6.1 -.03\\-5.7 -.05\\-5.4 -.07\\-5.1 -.11\\-4.9 -.14\\-4.7 -.17\\-4.5 -.22\\-4.3 -.28\\-4.1 -.34\\-3.9 -.42\\-3.7 -.50\\-3.5 -.58\\-3.3 -.63\\-3.1 -.65\\-2.9 -.63\\-2.7 -.58\\-2.5 -.50\\-2.3 -.42\\-2.1 -.34\\-1.9 -.28\\-1.7 -.22\\-1.5 -.17\\-1.3 -.14\\-1.1 -.11\\-.8 -.07\\-.5 -.05\\-.1 -.03\\.4 -.016\\.9 -.009\\1.9 -.003\\10 0\\}{-1}{1}
\end{axis}
% (f)
\begin{axis}[low,colormap name=cmE,at={(508.75pt,37.25pt)},width=245pt,height=151.5pt,xmin=-8.38,xmax=8.4,ymin=-1.38,ymax=1.38,
 point meta min=-1.25,point meta max=1.25,
 xtick={-5,5},xticklabels={−5,5},minor xtick={-8,-7,-6,-4,-3,-2,-1,1,2,3,4,6,7,8},
 ytick={-1,-.5,.5,1},yticklabels={−1.0,−0.5,0.5,1.0},minor ytick={-1.3,-1.2,-1.1,-.9,-.8,-.7,-.6,-.4,-.3,-.2,-.1,.1,.2,.3,.4,.6,.7,.8,.9,1.1,1.2,1.3}]
\tnn{-8 .21\\-7.56 .33\\-7.26 .48\\-6.96 .66\\-6.66 .86\\-6.36 1.05\\-6.06 1.12\\-5.76 1.05\\-5.46 .86\\-5.16 .66\\-4.86 .48\\-4.56 .33\\-4.16 .21\\-3.66 .11\\-3.06 .05\\-2.06 .015\\}{-1}{-1}
\tnn{.13 .011\\1.13 .04\\1.73 .08\\2.23 .15\\2.63 .25\\2.93 .35\\3.23 .49\\3.53 .64\\3.83 .78\\4.13 .83\\4.43 .78\\4.73 .64\\5.03 .49\\5.33 .35\\5.63 .25\\6.03 .15\\6.53 .08\\7.13 .04\\8 .015\\}{-1}{-1}
\tnn{4.1 .017\\5.1 .06\\5.7 .13\\6.2 .24\\6.6 .39\\6.9 .55\\7.2 .76\\7.5 1\\7.8 1.2\\8 1.28\\}{-1}{-1}
\tnn{-6.13 .006\\-5.13 .02\\-4.53 .05\\-4.03 .09\\-3.63 .14\\-3.33 .20\\-3.03 .28\\-2.73 .37\\-2.43 .45\\-2.13 .48\\-1.83 .45\\-1.53 .37\\-1.23 .28\\-.93 .20\\-.63 .14\\-.23 .09\\.27 .05\\.87 .02\\1.87 .006\\}{-1}{-1}
\tkk{-8 .04\\-7.54 .07\\-7.24 .10\\-6.94 .14\\-6.74 .18\\-6.54 .23\\-6.34 .29\\-6.14 .37\\-5.94 .46\\-5.74 .56\\-5.54 .67\\-5.34 .77\\-5.14 .84\\-4.94 .865\\-4.74 .84\\-4.54 .77\\-4.34 .67\\-4.14 .56\\-3.94 .46\\-3.74 .37\\-3.54 .29\\-3.34 .23\\-3.14 .18\\-2.94 .14\\-2.64 .10\\-2.34 .07\\-1.94 .04\\-1.44 .02\\-.94 .012\\.06 .003\\8 0\\}{-1}{-1}
\tkk{-8 0\\-6 .005\\-5 .017\\-4.5 .03\\-4 .06\\-3.6 .10\\-3.3 .14\\-3 .21\\-2.8 .27\\-2.6 .34\\-2.4 .43\\-2.2 .55\\-2 .68\\-1.8 .84\\-1.6 1\\-1.4 1.14\\-1.2 1.25\\-1 1.29\\-.8 1.25\\-.6 1.14\\-.4 1\\-.2 .84\\0 .68\\.2 .55\\.4 .43\\.6 .34\\.8 .27\\1 .21\\1.3 .14\\1.6 .10\\2 .06\\2.5 .03\\3 .017\\4 .005\\8 0\\}{-1}{-1}
\tkk{-8 0\\-2.02 .005\\-1.02 .016\\-.52 .03\\-.02 .05\\.38 .09\\.68 .13\\.98 .19\\1.18 .24\\1.38 .31\\1.58 .39\\1.78 .49\\1.98 .61\\2.18 .75\\2.38 .89\\2.58 1.02\\2.78 1.12\\2.98 1.15\\3.18 1.12\\3.38 1.02\\3.58 .89\\3.78 .75\\3.98 .61\\4.18 .49\\4.38 .39\\4.58 .31\\4.78 .24\\4.98 .19\\5.28 .13\\5.58 .09\\5.98 .05\\6.48 .03\\6.98 .016\\8 .005\\}{-1}{-1}
\tkk{-8 0\\1.92 .002\\2.92 .007\\3.42 .012\\3.92 .023\\4.32 .04\\4.62 .055\\4.92 .08\\5.12 .10\\5.32 .13\\5.52 .165\\5.72 .21\\5.92 .26\\6.12 .32\\6.32 .38\\6.52 .435\\6.72 .475\\6.92 .49\\7.12 .475\\7.32 .435\\7.52 .37\\7.72 .29\\7.92 .21\\8 .18\\}{-1}{-1}
\tkk{-8 .095\\-7.8 .08\\-7.6 .065\\-7.3 .045\\-7 .03\\-6.5 .02\\-6 .012\\-5 .004\\8 0\\}{-1}{-1}
\end{axis}
\end{tikzpicture}
\end{document}
